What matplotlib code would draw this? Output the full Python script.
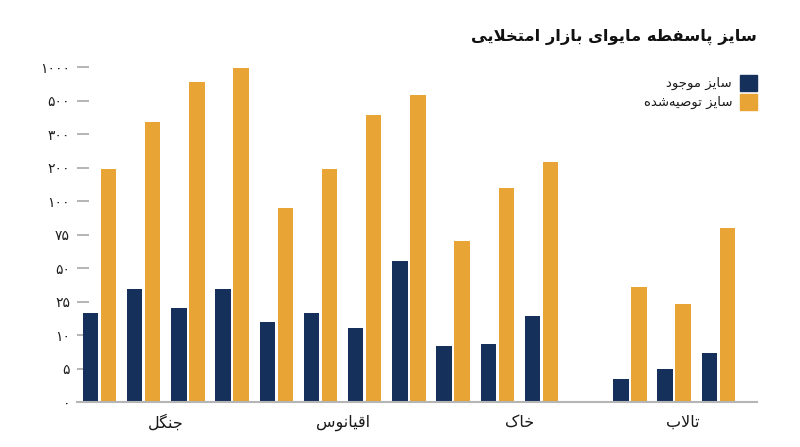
import numpy as np
import matplotlib
matplotlib.use("Agg")
import matplotlib.pyplot as plt
from matplotlib.patches import Rectangle

# ---------------- data ----------------
title = "سایز پاسفطه مایوای بازار امتخلایی"
categories = ["جنگل", "اقیانوس", "خاک", "تالاب"]
group_sizes = [4, 4, 4, 3]
series_names = ["سایز موجود", "سایز توصیه‌شده"]
current_size = [20, 34, 22, 34, 16, 20, 13, 55, 8.4, 8.7, 18.6, np.nan, 3.4, 4.9, 7.3]
recommended_size = [195, 370, 770, 980, 95, 195, 413, 580, 70, 138, 217, np.nan, 36, 24, 80]
tick_values = [0, 5, 10, 25, 50, 75, 100, 200, 300, 500, 1000]

NAVY = "#15305a"
ORANGE = "#e8a434"

# ------------- minimal Arabic/Persian shaping (matplotlib has no complex text layout) -------------
FORMS = {
    'ا': ('\uFE8D', '\uFE8E'),
    'ب': ('\uFE8F', '\uFE90', '\uFE91', '\uFE92'),
    'پ': ('\uFB56', '\uFB57', '\uFB58', '\uFB59'),
    'ت': ('\uFE95', '\uFE96', '\uFE97', '\uFE98'),
    'ج': ('\uFE9D', '\uFE9E', '\uFE9F', '\uFEA0'),
    'خ': ('\uFEA5', '\uFEA6', '\uFEA7', '\uFEA8'),
    'د': ('\uFEA9', '\uFEAA'),
    'ر': ('\uFEAD', '\uFEAE'),
    'ز': ('\uFEAF', '\uFEB0'),
    'س': ('\uFEB1', '\uFEB2', '\uFEB3', '\uFEB4'),
    'ش': ('\uFEB5', '\uFEB6', '\uFEB7', '\uFEB8'),
    'ص': ('\uFEB9', '\uFEBA', '\uFEBB', '\uFEBC'),
    'ط': ('\uFEC1', '\uFEC2', '\uFEC3', '\uFEC4'),
    'ف': ('\uFED1', '\uFED2', '\uFED3', '\uFED4'),
    'ق': ('\uFED5', '\uFED6', '\uFED7', '\uFED8'),
    'ک': ('\uFB8E', '\uFB8F', '\uFB90', '\uFB91'),
    'گ': ('\uFB92', '\uFB93', '\uFB94', '\uFB95'),
    'ل': ('\uFEDD', '\uFEDE', '\uFEDF', '\uFEE0'),
    'م': ('\uFEE1', '\uFEE2', '\uFEE3', '\uFEE4'),
    'ن': ('\uFEE5', '\uFEE6', '\uFEE7', '\uFEE8'),
    'ه': ('\uFEE9', '\uFEEA', '\uFEEB', '\uFEEC'),
    'و': ('\uFEED', '\uFEEE'),
    'ی': ('\uFBFC', '\uFBFD', '\uFBFE', '\uFBFF'),
}
LAMALEF = ('\uFEFB', '\uFEFC')


def shape(text):
    # merge lam+alef into ligature token
    tokens = []
    i = 0
    while i < len(text):
        c = text[i]
        if c == 'ل' and i + 1 < len(text) and text[i + 1] == 'ا':
            tokens.append('LA')
            i += 2
        else:
            tokens.append(c)
            i += 1

    def is_letter(t):
        return t == 'LA' or t in FORMS

    def dual(t):
        return t in FORMS and len(FORMS[t]) == 4

    out = []
    for k, t in enumerate(tokens):
        if not is_letter(t):
            if t == '\u200c':
                continue
            out.append(t)
            continue
        prev = tokens[k - 1] if k > 0 else None
        nxt = tokens[k + 1] if k + 1 < len(tokens) else None
        pj = prev is not None and dual(prev)
        if t == 'LA':
            out.append(LAMALEF[1] if pj else LAMALEF[0])
            continue
        f = FORMS[t]
        nj = dual(t) and nxt is not None and is_letter(nxt)
        if pj and nj:
            out.append(f[3])
        elif pj:
            out.append(f[1])
        elif nj:
            out.append(f[2])
        else:
            out.append(f[0])
    return ''.join(reversed(out))


def fa_digits(v):
    return str(v).translate(str.maketrans('0123456789', '۰۱۲۳۴۵۶۷۸۹'))


plt.rcParams['font.family'] = ['DejaVu Sans']

# ---------------- y scale: equally spaced ticks ----------------
_vals = np.array(tick_values + [1500], dtype=float)
_idx = np.arange(len(_vals), dtype=float)


def fwd(v):
    return np.interp(v, _vals, _idx)


def inv(p):
    return np.interp(p, _idx, _vals)


# ---------------- figure ----------------
W, H = 800, 447
fig = plt.figure(figsize=(W / 100, H / 100), dpi=100)
ax = fig.add_axes([77 / W, (H - 402) / H, 680 / W, 342 / H])
ax.set_yscale('function', functions=(fwd, inv))

slots = np.arange(sum(group_sizes))
bw = 0.35
off = 0.2036
cur = np.array(current_size, dtype=float)
rec = np.array(recommended_size, dtype=float)
m = ~np.isnan(cur)
ax.bar(slots[m] - off, cur[m], width=bw, color=NAVY, zorder=2)
m2 = ~np.isnan(rec)
ax.bar(slots[m2] + off, rec[m2], width=bw, color=ORANGE, zorder=2)

ax.set_xlim(-0.509, 14.875)
ax.set_ylim(0, inv(10.209))

ax.set_yticks(tick_values)
ax.set_yticklabels([fa_digits(v) for v in tick_values], fontsize=10, color='#1e1e1e')
ax.tick_params(axis='y', direction='in', length=8.6, width=1.2, color='#a8a8a8', pad=5)
ax.minorticks_off()

label_pos = [1.5, 5.5, 9.5, 13.2]
ax.set_xticks(label_pos)
ax.set_xticklabels([shape(c) for c in categories], fontsize=11.5, color='#1a1a1a')
ax.tick_params(axis='x', length=0, pad=9)

for s in ['top', 'right', 'left']:
    ax.spines[s].set_visible(False)
ax.spines['bottom'].set_color('#b5b5b5')
ax.spines['bottom'].set_linewidth(1.5)
ax.spines['bottom'].set_zorder(3)

# title
fig.text(757 / W, 1 - 37 / H, shape(title), ha='right', va='center',
         fontsize=11.7, fontweight='bold', color='#111111')

# legend
for j, (name, col) in enumerate(zip(series_names, [NAVY, ORANGE])):
    y_top = 75 + j * 19
    fig.patches.append(Rectangle((740 / W, 1 - (y_top + 16) / H), 17 / W, 16 / H,
                                 transform=fig.transFigure, color=col))
    fig.text(732 / W, 1 - (y_top + 8) / H, shape(name), ha='right', va='center',
             fontsize=9.5, color='#1a1a1a')

fig.savefig('out.png', dpi=100)
